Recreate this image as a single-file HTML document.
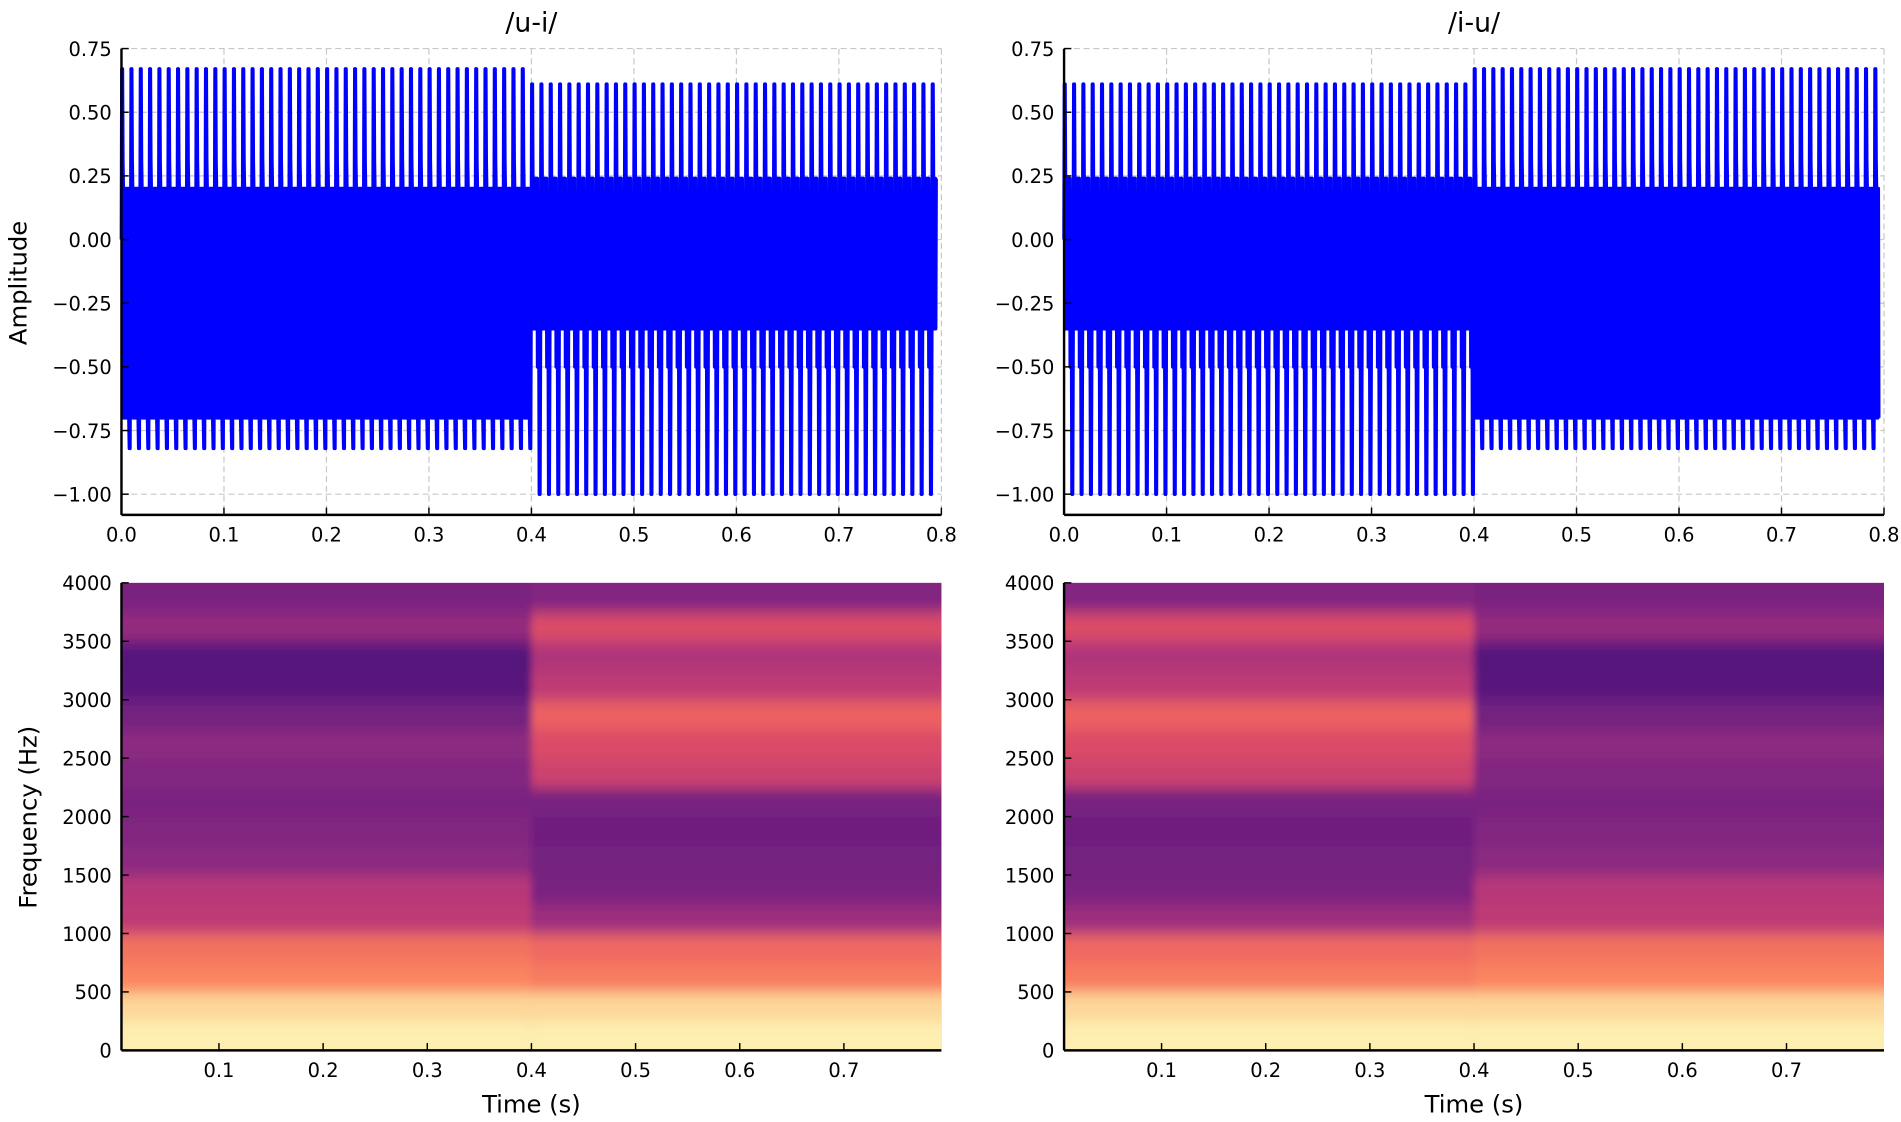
<!DOCTYPE html>
<html><head><meta charset="utf-8"><style>
html,body{margin:0;padding:0;background:#fff;}
svg{display:block;font-family:"DejaVu Sans","Liberation Sans",sans-serif;}
</style></head><body>
<svg id="fig" width="1901" height="1122" viewBox="0 0 1565 924" preserveAspectRatio="none" xmlns="http://www.w3.org/2000/svg">
<defs>
<filter id="blur" x="-5%" y="-5%" width="110%" height="110%"><feGaussianBlur stdDeviation="3 6"/></filter>
<clipPath id="clipL"><rect x="100" y="480" width="675" height="385"/></clipPath>
<clipPath id="clipR"><rect x="876" y="480" width="675" height="385"/></clipPath>
</defs>
</svg>
<script>
// ---- data ----
const waveXTicks = [0.0,0.1,0.2,0.3,0.4,0.5,0.6,0.7,0.8];
const waveYTicks = [0.75,0.50,0.25,0.00,-0.25,-0.50,-0.75,-1.00];
const specXTicks = [0.1,0.2,0.3,0.4,0.5,0.6,0.7];
const specYTicks = [0,500,1000,1500,2000,2500,3000,3500,4000];
const f0 = 110;
// one pitch period of each vowel (amplitude samples)
const uPeriod = [0.0,0.67,0.67,0.31,0.2,-0.7,0.2,-0.7,0.2,-0.7,0.2,-0.7,0.2,-0.7,0.2,-0.7,0.2,-0.72,-0.82,-0.82,-0.3];
const iPeriod = [0.0,0.61,0.61,0.24,-0.35,0.24,-0.35,0.24,-0.35,0.24,-0.35,0.24,-0.35,0.24,-0.5,-0.35,-0.5,-0.35,-1.0,-1.0,-0.5];
// spectrogram band intensities (250 Hz bins from 0 upward), 0..1 magma index
const uBands = [0.97,0.92,0.74,0.70,0.52,0.50,0.40,0.38,0.36,0.38,0.40,0.34,0.27,0.26,0.42,0.36];
const iBands = [0.97,0.92,0.72,0.68,0.44,0.36,0.34,0.33,0.35,0.56,0.60,0.66,0.52,0.48,0.60,0.38];
const panels = [
  {name:'u-i', title:'/u-i/', x0:100, first:uPeriod, second:iPeriod, bandsA:uBands, bandsB:iBands, clip:'clipL'},
  {name:'i-u', title:'/i-u/', x0:876, first:iPeriod, second:uPeriod, bandsA:iBands, bandsB:uBands, clip:'clipR'}
];
// ---- helpers ----
const NS='http://www.w3.org/2000/svg';
const svg=document.getElementById('fig');
function mk(tag,attrs,parent){const e=document.createElementNS(NS,tag);for(const k in attrs)e.setAttribute(k,attrs[k]);(parent||svg).appendChild(e);return e;}
const W=675;
const xW=(t,x0)=>x0+t/0.8*W;
const yW=a=>40+(0.75-a)*209.7;
const xS=(t,x0)=>x0+(t-0.0064)/(0.7936-0.0064)*W;
const yS=f=>865-f/4000*385;
const magStops=[[0,[0,0,4]],[0.13,[28,16,68]],[0.25,[81,18,124]],[0.38,[130,38,129]],[0.5,[183,55,121]],[0.63,[230,82,98]],[0.75,[252,137,97]],[0.88,[254,196,136]],[1,[252,253,191]]];
function magma(v){v=Math.max(0,Math.min(1,v));for(let i=1;i<magStops.length;i++){if(v<=magStops[i][0]){const[a,ca]=magStops[i-1],[b,cb]=magStops[i];const t=(v-a)/(b-a);return 'rgb('+ca.map((c,j)=>Math.round(c+(cb[j]-c)*t)).join(',')+')';}}return 'rgb(252,253,191)';}
function txt(x,y,s,size,anchor,parent){const e=mk('text',{x:x,y:y,'font-size':size,'text-anchor':anchor||'middle',fill:'#000'},parent);e.textContent=s;return e;}

panels.forEach(p=>{
  const x0=p.x0;
  // ---- waveform panel ----
  const g=mk('g',{});
  
  
  const grid=mk('g',{stroke:'#c8c8c8','stroke-width':1,'stroke-dasharray':'5,3'},g);
  waveXTicks.forEach(t=>mk('line',{x1:xW(t,x0),x2:xW(t,x0),y1:40,y2:424},grid));
  waveYTicks.forEach(a=>mk('line',{x1:x0,x2:x0+W,y1:yW(a),y2:yW(a)},grid));
  // waveform
  let pts=[];const tEnd=0.795;
  for(let c=0;;c++){
    const tc=c/f0; if(tc>tEnd)break;
    const per=tc<0.4?p.first:p.second;
    for(let k=0;k<per.length;k++){
      const t=tc+k/(per.length*f0); if(t>tEnd)break;
      pts.push(xW(t,x0).toFixed(2)+','+yW(per[k]).toFixed(2));
    }
  }
  const wl=mk('polyline',{points:pts.join(' '),fill:'none',stroke:'#0000ff','stroke-width':3,'stroke-linejoin':'round'},g);
  
  
  // spines
  mk('line',{x1:x0,x2:x0,y1:40,y2:424,stroke:'#000','stroke-width':2},g);
  mk('line',{x1:x0,x2:x0+W,y1:424,y2:424,stroke:'#000','stroke-width':2},g);
  waveXTicks.forEach(t=>{const x=xW(t,x0);mk('line',{x1:x,x2:x,y1:424,y2:418,stroke:'#000','stroke-width':1.2},g);
    const e=txt(x,446,t.toFixed(1),16,'middle',g);});
  waveYTicks.forEach(a=>{const y=yW(a);mk('line',{x1:x0,x2:x0+6,y1:y,y2:y,stroke:'#000','stroke-width':1.2},g);
    const e=txt(x0-8,y+6,a.toFixed(2).replace('-','\u2212'),16,'end',g);});
  const tt=txt(x0+W/2,26,p.title,22,'middle',g);
  
  

  // ---- spectrogram panel ----
  const s=mk('g',{});
  
  
  const img=mk('g',{'clip-path':'url(#'+p.clip+')'},s);
  mk('rect',{x:x0,y:480,width:W,height:385,fill:magma(0.4)},img);
  const bl=mk('g',{filter:'url(#blur)'},img);
  [[p.bandsA,-0.05,0.4],[p.bandsB,0.4,0.85]].forEach(([bands,t1,t2])=>{
    bands.forEach((v,i)=>{
      const f1=i*250,f2=(i+1)*250;
      const yTop=i===bands.length-1?yS(f2)-20:yS(f2);
      const yBot=i===0?yS(f1)+20:yS(f1);
      const r=mk('rect',{x:xS(t1,x0),y:yTop,width:xS(t2,x0)-xS(t1,x0),height:yBot-yTop+0.5,fill:magma(v)},bl);
      
      
    });
  });
  mk('line',{x1:x0,x2:x0,y1:480,y2:865,stroke:'#000','stroke-width':2},s);
  mk('line',{x1:x0,x2:x0+W,y1:865,y2:865,stroke:'#000','stroke-width':2},s);
  specXTicks.forEach(t=>{const x=xS(t,x0);mk('line',{x1:x,x2:x,y1:865,y2:859,stroke:'#000','stroke-width':1.2},s);
    const e=txt(x,887,t.toFixed(1),16,'middle',s);});
  specYTicks.forEach(f=>{const y=yS(f);mk('line',{x1:x0,x2:x0+6,y1:y,y2:y,stroke:'#000','stroke-width':1.2},s);
    const e=txt(x0-8,y+6,String(f),16,'end',s);});
  const xl=txt(x0+W/2,916,'Time (s)',20,'middle',s);
  
  
});
const ya=txt(0,0,'Amplitude',20,'middle');
ya.setAttribute('transform','translate(22,233) rotate(-90)');


const yf=txt(0,0,'Frequency (Hz)',20,'middle');
yf.setAttribute('transform','translate(30,673) rotate(-90)');


</script>
</body></html>
